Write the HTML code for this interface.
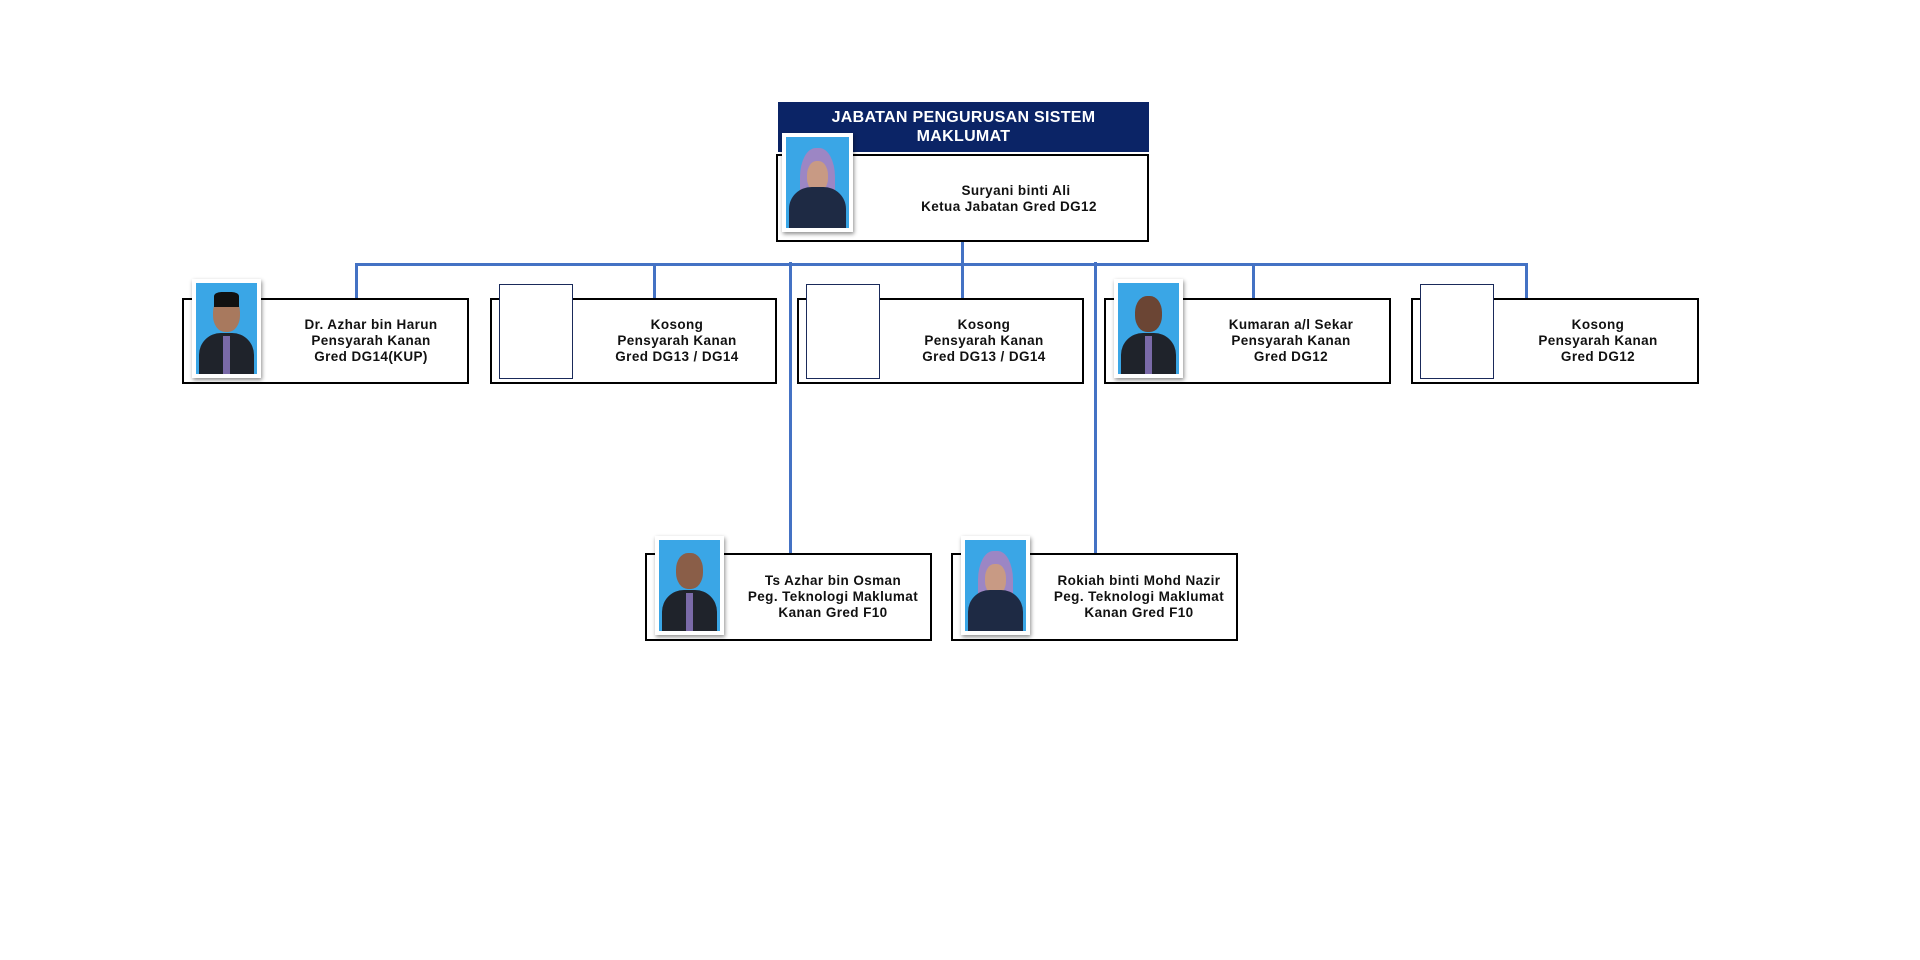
<!DOCTYPE html>
<html><head><meta charset="utf-8"><style>
body{margin:0;width:1920px;height:960px;background:#fff;position:relative;overflow:hidden;font-family:"Liberation Sans",Arial,sans-serif}
.a{position:absolute}
.box{position:absolute;border:2px solid #000;background:#fff;box-sizing:border-box}
.ln{position:absolute;background:#4472c4}
.ph{position:absolute;background:#fff;box-shadow:1px 2px 4px rgba(0,0,0,.45);box-sizing:border-box;padding:4px;overflow:hidden}
.ph .in{width:100%;height:100%;background:#3aa6e6;position:relative;overflow:hidden}
.ph .hd{position:absolute;left:28%;top:14%;width:44%;height:40%;border-radius:45%;background:#a8795e}
.ph .bd{position:absolute;left:5%;top:55%;width:90%;height:60%;border-radius:40% 40% 0 0;background:#1f232b}
.ph .tie{position:absolute;left:44%;top:58%;width:12%;height:42%;background:#7a6aa8}
.ph.h .hd{background:#9c86c4;left:22%;width:56%;height:70%;top:12%;border-radius:45% 45% 30% 30%}
.ph.h .face{position:absolute;left:33%;top:26%;width:34%;height:34%;border-radius:45%;background:#c89a84}
.emp{position:absolute;border:1px solid #1a2a5a;background:#fff}
.t{position:absolute;text-align:center;font-weight:bold;font-size:13.5px;line-height:16px;letter-spacing:.4px;color:#111}
</style></head><body>
<!-- connectors -->
<div class="ln" style="left:961px;top:241px;width:3px;height:25px"></div>
<div class="ln" style="left:355px;top:263px;width:1173px;height:3px"></div>
<div class="ln" style="left:355px;top:263px;width:3px;height:35px"></div>
<div class="ln" style="left:653px;top:263px;width:3px;height:35px"></div>
<div class="ln" style="left:961px;top:263px;width:3px;height:35px"></div>
<div class="ln" style="left:1252px;top:263px;width:3px;height:35px"></div>
<div class="ln" style="left:1525px;top:263px;width:3px;height:35px"></div>
<div class="ln" style="left:789px;top:262px;width:3px;height:291px"></div>
<div class="ln" style="left:1094px;top:262px;width:3px;height:291px"></div>

<!-- head -->
<div class="a" style="left:778px;top:102px;width:371px;height:50px;background:#0b2466;color:#fff;font-weight:bold;font-size:16px;line-height:19px;text-align:center;padding-top:6px;box-sizing:border-box;letter-spacing:.3px">JABATAN PENGURUSAN SISTEM<br>MAKLUMAT</div>
<div class="box" style="left:776px;top:154px;width:373px;height:88px"></div>
<div class="ph h" style="left:782px;top:133px;width:71px;height:99px"><div class="in"><div class="hd"></div><div class="face"></div><div class="bd" style="background:#1e2a44"></div></div></div>
<div class="t" style="left:876px;top:183px;width:280px">Suryani binti Ali</div>
<div class="t" style="left:869px;top:199px;width:280px">Ketua Jabatan Gred DG12</div>

<!-- row1 -->
<div class="box" style="left:182px;top:298px;width:287px;height:86px"></div>
<div class="ph" style="left:192px;top:279px;width:69px;height:99px"><div class="in"><div class="hd"></div><div class="bd"></div><div class="tie"></div><div class="a" style="left:30%;top:10%;width:40%;height:16%;background:#111;border-radius:30% 30% 0 0"></div></div></div>
<div class="t" style="left:261px;top:317px;width:220px">Dr. Azhar bin Harun<br>Pensyarah Kanan<br>Gred DG14(KUP)</div>

<div class="box" style="left:490px;top:298px;width:287px;height:86px"></div>
<div class="emp" style="left:499px;top:284px;width:72px;height:93px"></div>
<div class="t" style="left:567px;top:317px;width:220px">Kosong<br>Pensyarah Kanan<br>Gred DG13 / DG14</div>

<div class="box" style="left:797px;top:298px;width:287px;height:86px"></div>
<div class="emp" style="left:806px;top:284px;width:72px;height:93px"></div>
<div class="t" style="left:874px;top:317px;width:220px">Kosong<br>Pensyarah Kanan<br>Gred DG13 / DG14</div>

<div class="box" style="left:1104px;top:298px;width:287px;height:86px"></div>
<div class="ph" style="left:1114px;top:279px;width:69px;height:99px"><div class="in"><div class="hd" style="background:#6b4534"></div><div class="bd"></div><div class="tie"></div></div></div>
<div class="t" style="left:1181px;top:317px;width:220px">Kumaran a/l Sekar<br>Pensyarah Kanan<br>Gred DG12</div>

<div class="box" style="left:1411px;top:298px;width:288px;height:86px"></div>
<div class="emp" style="left:1420px;top:284px;width:72px;height:93px"></div>
<div class="t" style="left:1488px;top:317px;width:220px">Kosong<br>Pensyarah Kanan<br>Gred DG12</div>

<!-- row2 -->
<div class="box" style="left:645px;top:553px;width:287px;height:88px"></div>
<div class="ph" style="left:655px;top:536px;width:69px;height:99px"><div class="in"><div class="hd" style="background:#8a5e48"></div><div class="bd"></div><div class="tie"></div></div></div>
<div class="t" style="left:723px;top:573px;width:220px">Ts Azhar bin Osman<br>Peg. Teknologi Maklumat<br>Kanan Gred F10</div>

<div class="box" style="left:951px;top:553px;width:287px;height:88px"></div>
<div class="ph h" style="left:961px;top:536px;width:69px;height:99px"><div class="in"><div class="hd"></div><div class="face"></div><div class="bd" style="background:#1e2a44"></div></div></div>
<div class="t" style="left:1029px;top:573px;width:220px">Rokiah binti Mohd Nazir<br>Peg. Teknologi Maklumat<br>Kanan Gred F10</div>
</body></html>
